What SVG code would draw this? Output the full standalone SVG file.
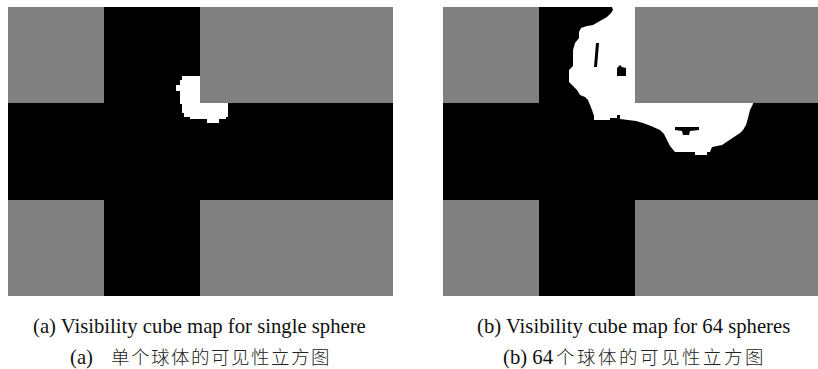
<svg xmlns="http://www.w3.org/2000/svg" width="818" height="369" viewBox="0 0 818 369">
<style>
.bk{fill:#000}
.gr{fill:#808080}
.wh{fill:#fff}
.en{font-family:"Liberation Serif","Times New Roman",serif;font-size:20.7px;fill:#111}
.zh{font-family:"Noto Sans CJK SC","Noto Sans CJK JP",sans-serif;font-size:18.5px;fill:#222;font-weight:300}
</style>
<rect width="818" height="369" fill="#fff"/>
<g id="panel-a">
<rect class="bk" x="8" y="7" width="385" height="289"/>
<path class="wh" d="M182,76 H200 V103 H228 V117 H226 V119 H219 V123 H207 V119 H190 V117 H184 V113 H182 V104 H180 V91 H176 V85 H180 V80 H182 Z"/>
<rect class="gr" x="8" y="7" width="96" height="96"/>
<rect class="gr" x="200" y="7" width="193" height="96"/>
<rect class="gr" x="8" y="200" width="96" height="96"/>
<rect class="gr" x="200" y="200" width="193" height="96"/>
</g>
<g id="panel-b">
<rect class="bk" x="443" y="7" width="375" height="289"/>
<path class="wh" d="M612,7 L700,7 L753,60 L753,104 L750,110 L748,118 L746,125 L743,130 L740,133 L734,137 L728,141 L722,145 L712,147 L710,152 L707,152 L707,155 L695,155 L695,152 L675,152 L670,146 L667,140 L664,134 L660,130 L651,126 L643,123 L636,121 L620,119 L620,115 L617,115 L617,118 L610,118 L610,120 L594,120 L594,116 L592,110 L590,105 L588,100 L585,97 L580,95 L577,90 L573,86 L569,82 L569,70 L573,66 L573,50 L575,43 L579,38 L579,32 L581,28 L587,26 L593,25 L600,21 L607,17 L611,13 L613,10 Z"/>
<path class="bk" d="M596,43 L599,43 L598,55 L597,67 L594,67 L595,55 Z"/>
<path class="bk" d="M617,68 L620,65 L622,67 L626,68 L626,76 L617,76 Z"/>
<path class="bk" d="M675,127 L699,127 L699,130 L690,131 L689,135 L683,135 L682,131 L675,130 Z"/>
<rect class="gr" x="443" y="7" width="96" height="96"/>
<rect class="gr" x="635" y="7" width="183" height="96"/>
<rect class="gr" x="443" y="200" width="96" height="96"/>
<rect class="gr" x="635" y="200" width="183" height="96"/>
</g>
<g id="captions">
<text class="en" x="33" y="333">(a) Visibility cube map for single sphere</text>
<text y="364"><tspan class="en" x="70">(a)</tspan><tspan class="zh" x="111" letter-spacing="1.5">单个球体的可见性立方图</tspan></text>
<text class="en" x="477" y="333">(b) Visibility cube map for 64 spheres</text>
<text y="364"><tspan class="en" x="503">(b) 64</tspan><tspan class="zh" x="556" letter-spacing="2.5">个球体的可见性立方图</tspan></text>
</g>
</svg>
